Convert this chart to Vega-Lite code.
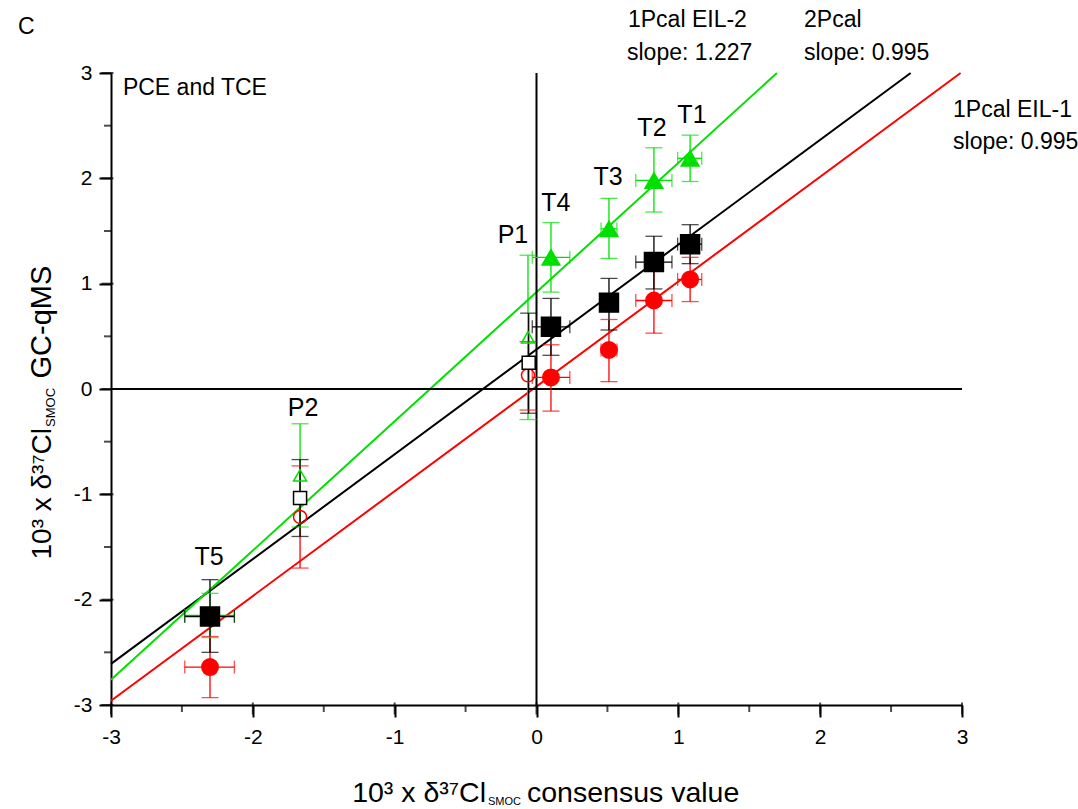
{
  "$schema": "https://vega.github.io/schema/vega-lite/v6.json",
  "width": 851,
  "height": 632,
  "autosize": {"type": "none"},
  "padding": {"left": 111, "top": 73, "right": 116, "bottom": 104},
  "background": "white",
  "config": {
    "font": "Liberation Sans",
    "view": {"stroke": null},
    "axis": {"grid": false, "domainColor": "#000000", "domainWidth": 2,
      "labelFont": "Liberation Sans", "labelFontSize": 21, "labelColor": "black", "labelFlush": false, "labelOverlap": false}
  },
  "datasets": {
    "pts": [
      {"series": "EIL1", "sample": "T1", "x": 1.083, "y": 1.04, "ylo": 0.83, "yhi": 1.25, "xlo": 0.995, "xhi": 1.165, "hollow": false},
      {"series": "EIL1", "sample": "T2", "x": 0.828, "y": 0.84, "ylo": 0.53, "yhi": 1.15, "xlo": 0.7, "xhi": 0.955, "hollow": false},
      {"series": "EIL1", "sample": "T3", "x": 0.511, "y": 0.37, "ylo": 0.07, "yhi": 0.66, "xlo": 0.455, "xhi": 0.567, "hollow": false},
      {"series": "EIL1", "sample": "T4", "x": 0.102, "y": 0.11, "ylo": -0.21, "yhi": 0.42, "xlo": -0.03, "xhi": 0.235, "hollow": false},
      {"series": "EIL1", "sample": "T5", "x": -2.302, "y": -2.64, "ylo": -2.93, "yhi": -2.35, "xlo": -2.48, "xhi": -2.13, "hollow": false},
      {"series": "EIL1", "sample": "P1", "x": -0.06, "y": 0.13, "ylo": -0.2, "yhi": 0.45, "xlo": null, "xhi": null, "hollow": true},
      {"series": "EIL1", "sample": "P2", "x": -1.667, "y": -1.215, "ylo": -1.7, "yhi": -0.73, "xlo": null, "xhi": null, "hollow": true},
      {"series": "EIL2", "sample": "T1", "x": 1.083, "y": 2.19, "ylo": 1.97, "yhi": 2.41, "xlo": 0.995, "xhi": 1.165, "hollow": false},
      {"series": "EIL2", "sample": "T2", "x": 0.828, "y": 1.98, "ylo": 1.68, "yhi": 2.29, "xlo": 0.7, "xhi": 0.955, "hollow": false},
      {"series": "EIL2", "sample": "T3", "x": 0.511, "y": 1.52, "ylo": 1.24, "yhi": 1.81, "xlo": 0.455, "xhi": 0.567, "hollow": false},
      {"series": "EIL2", "sample": "T4", "x": 0.102, "y": 1.25, "ylo": 0.92, "yhi": 1.58, "xlo": -0.03, "xhi": 0.235, "hollow": false},
      {"series": "EIL2", "sample": "T5", "x": -2.302, "y": -2.15, "ylo": -2.36, "yhi": -1.94, "xlo": -2.48, "xhi": -2.13, "hollow": false},
      {"series": "EIL2", "sample": "P1", "x": -0.06, "y": 0.49, "ylo": -0.29, "yhi": 1.27, "xlo": null, "xhi": null, "hollow": true},
      {"series": "EIL2", "sample": "P2", "x": -1.667, "y": -0.82, "ylo": -1.31, "yhi": -0.33, "xlo": null, "xhi": null, "hollow": true},
      {"series": "2Pcal", "sample": "T1", "x": 1.083, "y": 1.375, "ylo": 1.19, "yhi": 1.56, "xlo": 0.995, "xhi": 1.165, "hollow": false},
      {"series": "2Pcal", "sample": "T2", "x": 0.828, "y": 1.205, "ylo": 0.95, "yhi": 1.45, "xlo": 0.7, "xhi": 0.955, "hollow": false},
      {"series": "2Pcal", "sample": "T3", "x": 0.511, "y": 0.82, "ylo": 0.56, "yhi": 1.05, "xlo": 0.455, "xhi": 0.567, "hollow": false},
      {"series": "2Pcal", "sample": "T4", "x": 0.102, "y": 0.59, "ylo": 0.32, "yhi": 0.86, "xlo": -0.03, "xhi": 0.235, "hollow": false},
      {"series": "2Pcal", "sample": "T5", "x": -2.302, "y": -2.16, "ylo": -2.5, "yhi": -1.81, "xlo": -2.48, "xhi": -2.13, "hollow": false},
      {"series": "2Pcal", "sample": "P1", "x": -0.055, "y": 0.25, "ylo": -0.23, "yhi": 0.72, "xlo": null, "xhi": null, "hollow": true},
      {"series": "2Pcal", "sample": "P2", "x": -1.667, "y": -1.035, "ylo": -1.4, "yhi": -0.67, "xlo": null, "xhi": null, "hollow": true}
    ],
    "fits": [
      {"series": "EIL1", "x": -3, "y": -2.96},
      {"series": "EIL1", "x": 2.99, "y": 3.0},
      {"series": "2Pcal", "x": -3, "y": -2.61},
      {"series": "2Pcal", "x": 2.638, "y": 3.0},
      {"series": "EIL2", "x": -3, "y": -2.761},
      {"series": "EIL2", "x": 1.695, "y": 3.0}
    ],
    "tickvals": [
      {"v": -3}, {"v": -2.5}, {"v": -2}, {"v": -1.5}, {"v": -1}, {"v": -0.5}, {"v": 0},
      {"v": 0.5}, {"v": 1}, {"v": 1.5}, {"v": 2}, {"v": 2.5}, {"v": 3}
    ],
    "notes": [
      {"text": "C", "x": -3.656, "y": 3.437},
      {"text": "PCE and TCE", "x": -2.916, "y": 2.858},
      {"text": "1Pcal EIL-2", "x": 0.645, "y": 3.503},
      {"text": "slope: 1.227", "x": 0.638, "y": 3.19},
      {"text": "2Pcal", "x": 1.886, "y": 3.503},
      {"text": "slope: 0.995", "x": 1.886, "y": 3.19},
      {"text": "1Pcal EIL-1", "x": 2.937, "y": 2.649},
      {"text": "slope: 0.995", "x": 2.937, "y": 2.345}
    ],
    "labels": [
      {"text": "T1", "x": 1.096, "y": 2.6},
      {"text": "T2", "x": 0.814, "y": 2.478},
      {"text": "T3", "x": 0.504, "y": 2.013},
      {"text": "T4", "x": 0.137, "y": 1.766},
      {"text": "P1", "x": -0.166, "y": 1.462},
      {"text": "P2", "x": -1.646, "y": -0.18},
      {"text": "T5", "x": -2.309, "y": -1.595}
    ]
  },
  "layer": [
    {
      "data": {"name": "fits"},
      "mark": {"type": "line", "strokeWidth": 2},
      "encoding": {
        "x": {"field": "x", "type": "quantitative", "title": null,
          "scale": {"domain": [-3, 3], "nice": false, "zero": false},
          "axis": {"orient": "bottom", "tickCount": 6, "ticks": true, "tickSize": 12, "tickColor": "black", "tickWidth": 2, "labelPadding": 9,
            "labelExpr": "'' + datum.value", "title": null}},
        "y": {"field": "y", "type": "quantitative", "title": null,
          "scale": {"domain": [-3, 3], "nice": false, "zero": false},
          "axis": {"orient": "left", "tickCount": 6, "ticks": true, "tickSize": 12, "tickColor": "black", "tickWidth": 2, "labelPadding": 7,
            "labelExpr": "'' + datum.value", "title": null}},
        "color": {"field": "series", "type": "nominal", "legend": null,
          "scale": {"domain": ["EIL1", "EIL2", "2Pcal"], "range": ["#ff0000", "#00e000", "#000000"]}}
      }
    },
    {
      "data": {"name": "tickvals"},
      "mark": {"type": "tick", "orient": "vertical", "thickness": 2, "color": "black"},
      "encoding": {
        "x": {"field": "v", "type": "quantitative", "title": null, "scale": {"domain": [-3, 3]}},
        "y": {"datum": -3, "type": "quantitative", "scale": {"domain": [-3, 3]}},
        "size": {"condition": {"test": "datum.v % 1 === 0", "value": 12}, "value": 7},
        "yOffset": {"condition": {"test": "datum.v % 1 === 0", "value": 6}, "value": 3.5}
      }
    },
    {
      "data": {"name": "tickvals"},
      "mark": {"type": "tick", "orient": "horizontal", "thickness": 2, "color": "black"},
      "encoding": {
        "y": {"field": "v", "type": "quantitative", "title": null, "scale": {"domain": [-3, 3]}},
        "x": {"datum": -3, "type": "quantitative", "scale": {"domain": [-3, 3]}},
        "size": {"condition": {"test": "datum.v % 1 === 0", "value": 12}, "value": 7},
        "xOffset": {"condition": {"test": "datum.v % 1 === 0", "value": -6}, "value": -3.5}
      }
    },
    {
      "data": {"values": [{"v": 0}]},
      "mark": {"type": "rule", "color": "black", "strokeWidth": 2},
      "encoding": {"x": {"field": "v", "type": "quantitative", "title": null, "scale": {"domain": [-3, 3]}}}
    },
    {
      "data": {"values": [{"v": 0}]},
      "mark": {"type": "rule", "color": "black", "strokeWidth": 2},
      "encoding": {"y": {"field": "v", "type": "quantitative", "title": null, "scale": {"domain": [-3, 3]}}}
    },
    {
      "data": {"name": "pts"},
      "mark": {"type": "rule", "strokeWidth": 1.3},
      "encoding": {
        "x": {"field": "x", "type": "quantitative", "title": null, "scale": {"domain": [-3, 3]}},
        "y": {"field": "ylo", "type": "quantitative", "title": null, "scale": {"domain": [-3, 3]}},
        "y2": {"field": "yhi"},
        "color": {"field": "series", "type": "nominal", "legend": null}
      }
    },
    {
      "data": {"name": "pts"},
      "transform": [{"fold": ["ylo", "yhi"], "as": ["k", "cap"]}],
      "mark": {"type": "tick", "orient": "horizontal", "size": 17, "thickness": 1.3},
      "encoding": {
        "x": {"field": "x", "type": "quantitative", "title": null, "scale": {"domain": [-3, 3]}},
        "y": {"field": "cap", "type": "quantitative", "title": null, "scale": {"domain": [-3, 3]}},
        "color": {"field": "series", "type": "nominal", "legend": null}
      }
    },
    {
      "data": {"name": "pts"},
      "transform": [{"filter": "datum.xlo != null"}],
      "mark": {"type": "rule", "strokeWidth": 1.3},
      "encoding": {
        "x": {"field": "xlo", "type": "quantitative", "title": null, "scale": {"domain": [-3, 3]}},
        "x2": {"field": "xhi"},
        "y": {"field": "y", "type": "quantitative", "title": null, "scale": {"domain": [-3, 3]}},
        "color": {"field": "series", "type": "nominal", "legend": null}
      }
    },
    {
      "data": {"name": "pts"},
      "transform": [{"filter": "datum.xlo != null"}, {"fold": ["xlo", "xhi"], "as": ["k", "cap"]}],
      "mark": {"type": "tick", "orient": "vertical", "size": 13, "thickness": 1.3},
      "encoding": {
        "x": {"field": "cap", "type": "quantitative", "title": null, "scale": {"domain": [-3, 3]}},
        "y": {"field": "y", "type": "quantitative", "title": null, "scale": {"domain": [-3, 3]}},
        "color": {"field": "series", "type": "nominal", "legend": null}
      }
    },
    {
      "data": {"name": "pts"},
      "mark": {"type": "point", "filled": false, "strokeWidth": 1.5, "opacity": 1},
      "encoding": {
        "x": {"field": "x", "type": "quantitative", "title": null, "scale": {"domain": [-3, 3]}},
        "y": {"field": "y", "type": "quantitative", "title": null, "scale": {"domain": [-3, 3]}},
        "shape": {"field": "series", "type": "nominal", "legend": null,
          "scale": {"domain": ["EIL1", "EIL2", "2Pcal"], "range": ["circle", "triangle-up", "square"]}},
        "size": {"condition": {"test": "datum.hollow", "value": 170},
          "field": "series", "type": "nominal", "legend": null,
          "scale": {"domain": ["EIL1", "EIL2", "2Pcal"], "range": [270, 360, 240]}},
        "stroke": {"field": "series", "type": "nominal", "legend": null,
          "scale": {"domain": ["EIL1", "EIL2", "2Pcal"], "range": ["#ff0000", "#00e000", "#000000"]}},
        "fill": {"condition": [
            {"test": "datum.hollow && datum.series == '2Pcal'", "value": "white"},
            {"test": "datum.hollow", "value": "transparent"}
          ],
          "field": "series", "type": "nominal", "legend": null,
          "scale": {"domain": ["EIL1", "EIL2", "2Pcal"], "range": ["#ff0000", "#00e000", "#000000"]}}
      }
    },
    {
      "data": {"name": "notes"},
      "mark": {"type": "text", "align": "left", "baseline": "middle", "fontSize": 23, "color": "black"},
      "encoding": {
        "x": {"field": "x", "type": "quantitative", "title": null, "scale": {"domain": [-3, 3]}},
        "y": {"field": "y", "type": "quantitative", "title": null, "scale": {"domain": [-3, 3]}},
        "text": {"field": "text"}
      }
    },
    {
      "data": {"name": "labels"},
      "mark": {"type": "text", "align": "center", "baseline": "middle", "fontSize": 25, "color": "black"},
      "encoding": {
        "x": {"field": "x", "type": "quantitative", "title": null, "scale": {"domain": [-3, 3]}},
        "y": {"field": "y", "type": "quantitative", "title": null, "scale": {"domain": [-3, 3]}},
        "text": {"field": "text"}
      }
    },
    {
      "data": {"values": [{"text": "10³ x δ³⁷Cl", "x": -0.356, "y": -3.921}]},
      "mark": {"type": "text", "align": "right", "baseline": "alphabetic", "fontSize": 28.5, "color": "black"},
      "encoding": {
        "x": {"field": "x", "type": "quantitative", "title": null, "scale": {"domain": [-3, 3]}},
        "y": {"field": "y", "type": "quantitative", "title": null, "scale": {"domain": [-3, 3]}},
        "text": {"field": "text"}
      }
    },
    {
      "data": {"values": [{"text": "consensus value", "x": -0.067, "y": -3.921}]},
      "mark": {"type": "text", "align": "left", "baseline": "alphabetic", "fontSize": 28.5, "color": "black"},
      "encoding": {
        "x": {"field": "x", "type": "quantitative", "title": null, "scale": {"domain": [-3, 3]}},
        "y": {"field": "y", "type": "quantitative", "title": null, "scale": {"domain": [-3, 3]}},
        "text": {"field": "text"}
      }
    },
    {
      "data": {"values": [{"text": "SMOC", "x": -0.342, "y": -3.95}]},
      "mark": {"type": "text", "align": "left", "baseline": "alphabetic", "fontSize": 11, "color": "black"},
      "encoding": {
        "x": {"field": "x", "type": "quantitative", "title": null, "scale": {"domain": [-3, 3]}},
        "y": {"field": "y", "type": "quantitative", "title": null, "scale": {"domain": [-3, 3]}},
        "text": {"field": "text"}
      }
    },
    {
      "data": {"values": [{"text": "10³ x δ³⁷Cl", "x": -3.423, "y": -0.37}]},
      "mark": {"type": "text", "align": "right", "baseline": "alphabetic", "angle": 270, "fontSize": 28, "color": "black"},
      "encoding": {
        "x": {"field": "x", "type": "quantitative", "title": null, "scale": {"domain": [-3, 3]}},
        "y": {"field": "y", "type": "quantitative", "title": null, "scale": {"domain": [-3, 3]}},
        "text": {"field": "text"}
      }
    },
    {
      "data": {"values": [{"text": "GC-qMS", "x": -3.423, "y": 0.1}]},
      "mark": {"type": "text", "align": "left", "baseline": "alphabetic", "angle": 270, "fontSize": 29, "color": "black"},
      "encoding": {
        "x": {"field": "x", "type": "quantitative", "title": null, "scale": {"domain": [-3, 3]}},
        "y": {"field": "y", "type": "quantitative", "title": null, "scale": {"domain": [-3, 3]}},
        "text": {"field": "text"}
      }
    },
    {
      "data": {"values": [{"text": "SMOC", "x": -3.395, "y": -0.36}]},
      "mark": {"type": "text", "align": "left", "baseline": "alphabetic", "angle": 270, "fontSize": 13, "color": "black"},
      "encoding": {
        "x": {"field": "x", "type": "quantitative", "title": null, "scale": {"domain": [-3, 3]}},
        "y": {"field": "y", "type": "quantitative", "title": null, "scale": {"domain": [-3, 3]}},
        "text": {"field": "text"}
      }
    }
  ]
}
